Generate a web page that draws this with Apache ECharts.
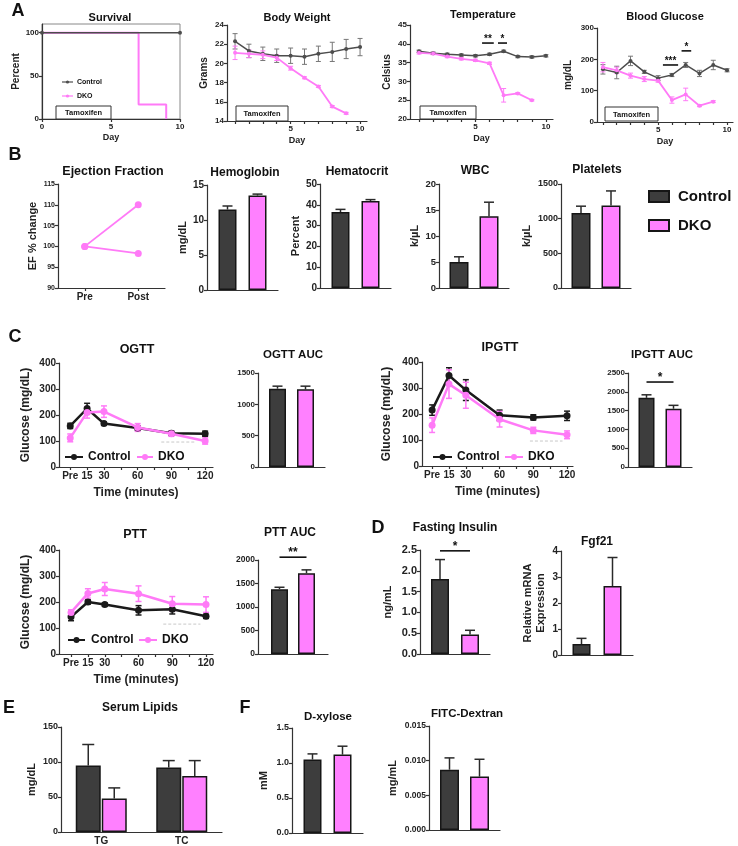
<!DOCTYPE html>
<html><head><meta charset="utf-8">
<script src="https://cdn.jsdelivr.net/npm/echarts@6/dist/echarts.min.js"></script>
<style>html,body{margin:0;padding:0;background:#fff}#c{width:738px;height:846px}</style>
</head><body><div id="c"></div>
<script>
// ===== DATA =====
const days = [1,2,3,4,5,6,7,8,9,10];
const dkoDays = [1,2,3,4,5,6,7,8,9];
const survivalCtrlDays = [0, 10];
const survivalCtrl = [100, 100];
const survivalDKODays = [0, 7, 9];
const survivalDKO = [100, 16.7, 0];
const bwCtrl = [22.3,21.3,21.0,20.8,20.8,20.7,21.0,21.2,21.5,21.7];
const bwCtrlErr = [0.8,0.7,0.7,0.7,0.8,0.8,0.8,1.0,1.0,0.9];
const bwDKO = [21.1,21.0,20.9,20.6,19.5,18.5,17.6,15.5,14.8];
const bwDKOErr = [0.7,0.4,0.4,0.3,0.2,0.1,0.1,0.1,0.1];
const tempCtrl = [38.0,37.5,37.2,37.0,36.8,37.2,38.0,36.6,36.5,36.8];
const tempCtrlErr = [0.3,0.3,0.3,0.3,0.3,0.3,0.3,0.3,0.3,0.3];
const tempDKO = [37.6,37.4,36.6,36.0,35.6,34.8,26.3,26.8,25.0];
const tempDKOErr = [0.3,0.3,0.3,0.3,0.3,0.3,1.8,0.2,0.2];
const tempSig = [[5.47,6.3,40.2],[6.6,7.24,40.2]];
const tempSigText = ['**','*'];
const bgCtrl = [168,158,195,160,140,150,182,155,182,165];
const bgCtrlErr = [15,20,15,5,8,5,8,10,15,5];
const bgDKO = [175,165,148,137,132,70,88,52,65];
const bgDKOErr = [15,10,8,8,5,10,20,3,3];
const bgSig = [[5.35,6.45,182],[6.7,7.4,227]];
const bgSigText = ['***','*'];

const efTimes = ['Pre','Post'];
const efMouse1 = [100, 110];
const efMouse2 = [100, 98.3];
const hgb = [11.5, 13.5], hgbErr = [0.5, 0.2];
const hct = [36.5, 41.8], hctErr = [1.3, 0.7];
const wbc = [5.0, 13.8], wbcErr = [1.0, 2.7];
const plt = [1080, 1190], pltErr = [100, 210];

const minutes = [0, 15, 30, 60, 90, 120];
const ogttCtrl = [158,225,167,150,130,128], ogttCtrlErr = [10,20,6,8,8,10];
const ogttDKO = [112,210,213,152,128,100], ogttDKOErr = [15,22,22,15,10,12];
const ogttRef = [[81,96],[112,96]];
const ipgttCtrl = [215,348,292,195,187,193], ipgttCtrlErr = [20,30,40,20,10,18];
const ipgttDKO = [157,315,272,180,137,120], ipgttDKOErr = [28,55,50,30,12,15];
const ipgttRef = [[87,96],[116,96]];
const pttCtrl = [143,200,190,168,172,145], pttCtrlErr = [15,8,6,18,18,8];
const pttDKO = [160,233,250,232,193,190], pttDKOErr = [10,18,25,30,28,30];
const pttRef = [[82,115],[115,115]];
const ogttAUC = [1250, 1240], ogttAUCErr = [40, 50];
const ipgttAUC = [1840, 1550], ipgttAUCErr = [80, 90];
const pttAUC = [1380, 1720], pttAUCErr = [40, 70];
const insulin = [1.8, 0.47], insulinErr = [0.47, 0.1];
const fgf21 = [0.42, 2.65], fgf21Err = [0.22, 1.1];
const lipidCats = ['TG','TC'];
const lipidCtrl = [95, 92], lipidCtrlErr = [30, 10];
const lipidDKO = [48, 80], lipidDKOErr = [15, 22];
const dxylose = [1.05, 1.12], dxyloseErr = [0.08, 0.12];
const fitc = [0.0087, 0.0077], fitcErr = [0.0017, 0.0025];
const dayTicks = days, dayLabels = [5, 10];
const minuteTicks = [0,15,30,45,60,75,90,105,120];
const minuteLabels = [0,15,30,60,90,120];

// ===== STYLE / HELPERS =====
const FONT = "'Liberation Sans', Arial, sans-serif";
const C_BAR = '#3d3d3d', D_BAR = '#ff80ff', EDGE = '#161616';
const C_LA = '#4d4d4d', D_L = '#ff7af7', C_LC = '#1a1a1a';
const AXC = '#333';
const plain = function(v){ return String(v); };

const option = {animation:false, backgroundColor:'#ffffff', textStyle:{fontFamily:FONT},
  grid:[], xAxis:[], yAxis:[], series:[], graphic:[], legend:[]};

function addGrid(l,t,w,h,extra){ option.grid.push(Object.assign({left:l,top:t,width:w,height:h}, extra||{})); return option.grid.length-1; }
function baseAxis(fs){
  return {
    axisLine:{show:true, onZero:false, lineStyle:{color:AXC, width:1.2}},
    axisTick:{show:true, length:3, lineStyle:{color:AXC, width:1.2}},
    axisLabel:{fontSize:fs, fontWeight:'bold', color:'#222', fontFamily:FONT, margin:3, formatter:plain},
    splitLine:{show:false}
  };
}
function nameStyle(fs){ return {fontSize:fs, fontWeight:'bold', color:'#222', fontFamily:FONT, lineHeight:fs+2}; }
function addY(gi, min, max, interval, fs, name, gap, fmt, nameFs, extra){
  const a = Object.assign({gridIndex:gi, type:'value', min:min, max:max}, baseAxis(fs));
  if (interval != null) a.interval = interval;
  if (fmt) a.axisLabel.formatter = fmt;
  if (name){ a.name = name; a.nameLocation = 'middle'; a.nameGap = gap; a.nameTextStyle = nameStyle(nameFs||10); }
  if (extra) extra(a);
  option.yAxis.push(a); return option.yAxis.length-1;
}
function addXVal(gi, min, max, fs, ticks, labels, fmt, name, gap, nameFs){
  const a = Object.assign({gridIndex:gi, type:'value', min:min, max:max}, baseAxis(fs));
  a.axisTick.customValues = ticks; a.axisLabel.customValues = labels; a.axisLabel.margin = 4;
  if (fmt) a.axisLabel.formatter = fmt;
  if (name){ a.name = name; a.nameLocation = 'middle'; a.nameGap = gap; a.nameTextStyle = nameStyle(nameFs||10); }
  option.xAxis.push(a); return option.xAxis.length-1;
}
function addXCat(gi, cats, fs, showLabels, showTicks){
  const a = Object.assign({gridIndex:gi, type:'category', data:cats, boundaryGap:true}, baseAxis(fs));
  a.axisLabel.show = showLabels; a.axisLabel.margin = 4;
  a.axisTick.show = showTicks; a.axisTick.alignWithLabel = true;
  option.xAxis.push(a); return option.xAxis.length-1;
}
function zip(xs, ys){ return xs.map((x,i)=>[x, ys[i]]); }
function zip3(xs, ys, es){ return xs.map((x,i)=>[x, ys[i], es[i]]); }

function lineSeries(name, xi, yi, data, color, lw, sym, extra){
  option.series.push(Object.assign({type:'line', name:name, xAxisIndex:xi, yAxisIndex:yi, data:data,
    lineStyle:{color:color, width:lw}, itemStyle:{color:color}, symbol: sym>0?'circle':'none', symbolSize:sym,
    showSymbol: sym>0, z:4, silent:true}, extra||{}));
}
function errSeries(xi, yi, data, color, capW, lw){
  option.series.push({type:'custom', xAxisIndex:xi, yAxisIndex:yi, data:data, z:3, silent:true, encode:{x:0, y:1},
    renderItem:function(params, api){
      const x = api.value(0), v = api.value(1), e = api.value(2);
      const lo = api.coord([x, v-e]), hi = api.coord([x, v+e]);
      const st = {stroke:color, lineWidth:lw};
      return {type:'group', children:[
        {type:'line', shape:{x1:lo[0],y1:lo[1],x2:hi[0],y2:hi[1]}, style:st},
        {type:'line', shape:{x1:lo[0]-capW/2,y1:lo[1],x2:lo[0]+capW/2,y2:lo[1]}, style:st},
        {type:'line', shape:{x1:hi[0]-capW/2,y1:hi[1],x2:hi[0]+capW/2,y2:hi[1]}, style:st}
      ]};
    }});
}
function sigValSeries(xi, yi, data, texts, fs){
  option.series.push({type:'custom', xAxisIndex:xi, yAxisIndex:yi, data:data, z:10, silent:true, encode:{x:0, y:2},
    renderItem:function(params, api){
      const a = api.coord([api.value(0), api.value(2)]), b = api.coord([api.value(1), api.value(2)]);
      return {type:'group', children:[
        {type:'line', shape:{x1:a[0],y1:a[1],x2:b[0],y2:b[1]}, style:{stroke:'#111', lineWidth:1.6}},
        {type:'text', x:(a[0]+b[0])/2, y:a[1]-4, style:{text:texts[params.dataIndex], font:'bold '+fs+'px '+FONT, fill:'#111', align:'center', verticalAlign:'middle'}}
      ]};
    }});
}
function txt(s, x, y, fs, align, z){
  option.graphic.push({type:'text', x:x, y:y, z:z||100, silent:true,
    style:{text:s, fill:'#111', font:'bold '+fs+'px '+FONT, align:align||'center', verticalAlign:'middle'}});
}
function tamox(x1,y1,x2,y2,fs){
  option.graphic.push({type:'rect', z:90, silent:true, shape:{x:x1,y:y1,width:x2-x1,height:y2-y1}, style:{fill:'#fff', stroke:'#333', lineWidth:1}});
  txt('Tamoxifen', (x1+x2)/2, (y1+y2)/2+0.5, fs, 'center', 100);
}
function lineLegend(x1, x2, y, color, lw, r, label, tx, fs){
  option.graphic.push({type:'line', z:100, silent:true, shape:{x1:x1,y1:y,x2:x2,y2:y}, style:{stroke:color, lineWidth:lw}});
  option.graphic.push({type:'circle', z:101, silent:true, shape:{cx:(x1+x2)/2, cy:y, r:r}, style:{fill:color}});
  txt(label, tx, y, fs, 'left');
}

// bar panel
function barPanel(p){
  const gi = addGrid(p.l, p.t, p.w, p.h);
  const cats = p.cats || [''];
  const xi = addXCat(gi, cats, p.catFs || p.fs, !!p.cats, false);
  const yi = addY(gi, p.min, p.max, p.int, p.fs, p.name, p.gap, p.fmt, p.nameFs || 11);
  const off = (p.bw + p.g)/2;
  option.series.push({type:'bar', name:'Control', xAxisIndex:xi, yAxisIndex:yi, data:p.ctrl, barWidth:p.bw, barGap:(p.g/p.bw*100)+'%',
    itemStyle:{color:C_BAR, borderColor:EDGE, borderWidth:1.5}, z:2, silent:true});
  option.series.push({type:'bar', name:'DKO', xAxisIndex:xi, yAxisIndex:yi, data:p.dko, barWidth:p.bw, barGap:(p.g/p.bw*100)+'%',
    itemStyle:{color:D_BAR, borderColor:EDGE, borderWidth:1.5}, z:2, silent:true});
  const cap = p.cap || 10;
  [[p.ctrl, p.ctrlErr, -off], [p.dko, p.dkoErr, off]].forEach(function(s){
    const data = s[0].map((v,i)=>[i, v, s[1][i]]);
    const o = s[2];
    option.series.push({type:'custom', xAxisIndex:xi, yAxisIndex:yi, data:data, z:1, silent:true, encode:{x:0,y:1},
      renderItem:function(params, api){
        const a = api.coord([api.value(0), api.value(1)]), b = api.coord([api.value(0), api.value(1)+api.value(2)]);
        const x = a[0] + o;
        const st = {stroke:'#2a2a2a', lineWidth:1.5};
        return {type:'group', children:[
          {type:'line', shape:{x1:x,y1:a[1],x2:x,y2:b[1]}, style:st},
          {type:'line', shape:{x1:x-cap/2,y1:b[1],x2:x+cap/2,y2:b[1]}, style:st}
        ]};
      }});
  });
  if (p.sig != null){
    option.series.push({type:'custom', xAxisIndex:xi, yAxisIndex:yi, data:[[0, p.sig]], z:10, silent:true, encode:{x:0,y:1},
      renderItem:function(params, api){
        const a = api.coord([0, api.value(1)]);
        const so = off + (p.sigExtra || 0);
        return {type:'group', children:[
          {type:'line', shape:{x1:a[0]-so,y1:a[1],x2:a[0]+so,y2:a[1]}, style:{stroke:'#111', lineWidth:1.6}},
          {type:'text', x:a[0], y:a[1]-4, style:{text:p.sigText, font:'bold '+(p.sigFs||11)+'px '+FONT, fill:'#111', align:'center', verticalAlign:'middle'}}
        ]};
      }});
  }
  return gi;
}

// ===== PANEL B (bars first for legend styling) =====
barPanel({l:207,t:185,w:71,h:105,min:0,max:15,int:5,fs:10,name:'mg/dL',gap:14,ctrl:[hgb[0]],ctrlErr:[hgbErr[0]],dko:[hgb[1]],dkoErr:[hgbErr[1]],bw:18,g:12});
barPanel({l:320,t:184,w:71,h:104,min:0,max:50,int:10,fs:10,name:'Percent',gap:14,ctrl:[hct[0]],ctrlErr:[hctErr[0]],dko:[hct[1]],dkoErr:[hctErr[1]],bw:18,g:12});
barPanel({l:439,t:184,w:70,h:104,min:0,max:20,int:5,fs:9.5,name:'k/µL',gap:16,ctrl:[wbc[0]],ctrlErr:[wbcErr[0]],dko:[wbc[1]],dkoErr:[wbcErr[1]],bw:19,g:11});
barPanel({l:561,t:184,w:70,h:104,min:0,max:1500,int:500,fs:9,name:'k/µL',gap:28,ctrl:[plt[0]],ctrlErr:[pltErr[0]],dko:[plt[1]],dkoErr:[pltErr[1]],bw:19,g:11});

// EF
(function(){
  const gi = addGrid(58,184,107,104);
  const xi = addXCat(gi, efTimes, 10, true, true);
  const yi = addY(gi, 90, 115, 5, 7, 'EF % change', 19, null, 11);
  lineSeries('DKO', xi, yi, efMouse1, D_L, 1.8, 7);
  lineSeries('DKO', xi, yi, efMouse2, D_L, 1.8, 7);
})();

option.legend.push({orient:'vertical', left:648, top:189, padding:0, itemWidth:20, itemHeight:11, itemGap:14, selectedMode:false,
  textStyle:{fontSize:15, fontWeight:'bold', color:'#111', fontFamily:FONT, padding:[0,0,0,4]},
  data:[{name:'Control', icon:'rect', itemStyle:{color:C_BAR, borderColor:EDGE, borderWidth:2}},
        {name:'DKO', icon:'rect', itemStyle:{color:D_BAR, borderColor:EDGE, borderWidth:2}}]});

// ===== PANEL A =====
(function(){
  // Survival
  let gi = addGrid(42,24,138,95,{show:true, borderColor:'#888', borderWidth:1});
  let xi = addXVal(gi, 0, 10, 8, [0,5,10], [0,5,10], null, 'Day', 12, 9);
  let yi = addY(gi, 0, 110, null, 8, 'Percent', 17, null, 10, function(a){ a.axisLabel.customValues=[0,50,100]; a.axisTick.customValues=[0,50,100]; });
  lineSeries('DKO', xi, yi, zip(survivalDKODays, survivalDKO), D_L, 2, 0, {step:'end'});
  lineSeries('Control', xi, yi, zip(survivalCtrlDays, survivalCtrl), C_LA, 1.5, 4, {z:5});
  lineLegend(62, 73, 82, C_LA, 1.2, 1.6, 'Control', 77, 7);
  lineLegend(62, 73, 96, D_L, 1.2, 1.6, 'DKO', 77, 7);
  tamox(56,106,111,119,7.5);

  // Body weight
  gi = addGrid(227,25,140,96);
  xi = addXVal(gi, 0.42, 10.5, 8, dayTicks, dayLabels, null, 'Day', 14, 9);
  yi = addY(gi, 14, 24, 2, 8, 'Grams', 17, null, 10);
  errSeries(xi, yi, zip3(days, bwCtrl, bwCtrlErr), '#777', 5, 1);
  errSeries(xi, yi, zip3(dkoDays, bwDKO, bwDKOErr), D_L, 5, 1);
  lineSeries('Control', xi, yi, zip(days, bwCtrl), C_LA, 1.5, 4);
  lineSeries('DKO', xi, yi, zip(dkoDays, bwDKO), D_L, 1.8, 4);
  tamox(236,106,288,121,7.5);

  // Temperature
  gi = addGrid(410,25,143,94);
  xi = addXVal(gi, 0.36, 10.5, 8, dayTicks, dayLabels, null, 'Day', 14, 9);
  yi = addY(gi, 20, 45, 5, 8, 'Celsius', 17, null, 10);
  errSeries(xi, yi, zip3(days, tempCtrl, tempCtrlErr), '#777', 5, 1);
  errSeries(xi, yi, zip3(dkoDays, tempDKO, tempDKOErr), D_L, 5, 1);
  lineSeries('Control', xi, yi, zip(days, tempCtrl), C_LA, 1.5, 4);
  lineSeries('DKO', xi, yi, zip(dkoDays, tempDKO), D_L, 1.8, 4);
  sigValSeries(xi, yi, tempSig, tempSigText, 10);
  tamox(420,106,476,119,7.5);

  // Blood glucose
  gi = addGrid(597,28,136,94);
  xi = addXVal(gi, 0.57, 10.43, 8, dayTicks, dayLabels, null, 'Day', 14, 9);
  yi = addY(gi, 0, 300, 100, 8, 'mg/dL', 23, null, 10);
  errSeries(xi, yi, zip3(days, bgCtrl, bgCtrlErr), '#777', 5, 1);
  errSeries(xi, yi, zip3(dkoDays, bgDKO, bgDKOErr), D_L, 5, 1);
  lineSeries('Control', xi, yi, zip(days, bgCtrl), C_LA, 1.5, 4);
  lineSeries('DKO', xi, yi, zip(dkoDays, bgDKO), D_L, 1.8, 4);
  sigValSeries(xi, yi, bgSig, bgSigText, 10);
  tamox(605,107,658,121,7.5);
})();

// ===== PANEL C =====
function gttPanel(l,t,w,h,xmin,xmax,ctrl,ctrlErr,dko,dkoErr,ref,yGap,leg){
  const gi = addGrid(l,t,w,h);
  const xi = addXVal(gi, xmin, xmax, 10, minuteTicks, minuteLabels, function(v){ return v===0 ? 'Pre' : String(v); }, 'Time (minutes)', 19, 12);
  const yi = addY(gi, 0, 400, 100, 10, 'Glucose (mg/dL)', yGap, null, 12);
  option.series.push({type:'line', xAxisIndex:xi, yAxisIndex:yi, data:ref, symbol:'none', silent:true, z:1,
    lineStyle:{color:'#c8c8c8', width:1, type:[3,2]}});
  errSeries(xi, yi, zip3(minutes, ctrl, ctrlErr), C_LC, 6, 1.5);
  errSeries(xi, yi, zip3(minutes, dko, dkoErr), D_L, 6, 1.5);
  lineSeries('Control', xi, yi, zip(minutes, ctrl), C_LC, 2.5, 7);
  lineSeries('DKO', xi, yi, zip(minutes, dko), D_L, 2.5, 7, {z:5});
  lineLegend(leg[0], leg[1], leg[2], C_LC, 2, 3, 'Control', leg[3], 12);
  lineLegend(leg[4], leg[5], leg[2], D_L, 2, 3, 'DKO', leg[6], 12);
}
gttPanel(59,363,154,104,-10,127,ogttCtrl,ogttCtrlErr,ogttDKO,ogttDKOErr,ogttRef,26,[65,83,457,88,137,153,158]);
gttPanel(422,362,151,104,-9,125.3,ipgttCtrl,ipgttCtrlErr,ipgttDKO,ipgttDKOErr,ipgttRef,28,[433,452,457,457,505,523,528]);
gttPanel(59,550,154,104,-10.7,126.2,pttCtrl,pttCtrlErr,pttDKO,pttDKOErr,pttRef,26,[68,85,640,91,139,157,162]);

barPanel({l:258,t:373,w:67,h:94,min:0,max:1500,int:500,fs:8,ctrl:[ogttAUC[0]],ctrlErr:[ogttAUCErr[0]],dko:[ogttAUC[1]],dkoErr:[ogttAUCErr[1]],bw:17,g:11});
barPanel({l:628,t:373,w:64,h:94,min:0,max:2500,int:500,fs:8,ctrl:[ipgttAUC[0]],ctrlErr:[ipgttAUCErr[0]],dko:[ipgttAUC[1]],dkoErr:[ipgttAUCErr[1]],bw:16,g:11,sig:2260,sigText:'*',sigFs:12});
barPanel({l:258,t:560,w:70,h:94,min:0,max:2000,int:500,fs:8.5,ctrl:[pttAUC[0]],ctrlErr:[pttAUCErr[0]],dko:[pttAUC[1]],dkoErr:[pttAUCErr[1]],bw:17,g:10,sig:2060,sigText:'**',sigFs:12});

// ===== PANEL D =====
barPanel({l:420,t:550,w:70,h:104,min:0,max:2.5,int:0.5,fs:11,fmt:function(v){return v.toFixed(1);},name:'ng/mL',gap:26,ctrl:[insulin[0]],ctrlErr:[insulinErr[0]],dko:[insulin[1]],dkoErr:[insulinErr[1]],bw:18,g:12,sig:2.48,sigText:'*',sigFs:12});
barPanel({l:561,t:551,w:72,h:104,min:0,max:4,int:1,fs:10,name:'Relative mRNA\nExpression',gap:14,ctrl:[fgf21[0]],ctrlErr:[fgf21Err[0]],dko:[fgf21[1]],dkoErr:[fgf21Err[1]],bw:18,g:13});

// ===== PANEL E / F =====
barPanel({l:61,t:727,w:161,h:106,min:0,max:150,int:50,fs:9,catFs:10,cats:lipidCats,name:'mg/dL',gap:23,ctrl:lipidCtrl,ctrlErr:lipidCtrlErr,dko:lipidDKO,dkoErr:lipidDKOErr,bw:25,g:1,cap:12});
barPanel({l:292,t:728,w:71,h:105,min:0,max:1.5,int:0.5,fs:9,fmt:function(v){return v.toFixed(1);},name:'mM',gap:22,ctrl:[dxylose[0]],ctrlErr:[dxyloseErr[0]],dko:[dxylose[1]],dkoErr:[dxyloseErr[1]],bw:18,g:12});
barPanel({l:429,t:726,w:71,h:104,min:0,max:0.015,int:0.005,fs:8.5,fmt:function(v){return v.toFixed(3);},name:'mg/mL',gap:30,ctrl:[fitc[0]],ctrlErr:[fitcErr[0]],dko:[fitc[1]],dkoErr:[fitcErr[1]],bw:19,g:11});

// ===== TITLES & PANEL LETTERS =====
[['Survival',110,18,11],['Body Weight',297,18,11],['Temperature',483,15,11],['Blood Glucose',665,17,11],
 ['Ejection Fraction',113,172,12.5],['Hemoglobin',245,173,12],['Hematocrit',357,172,12],['WBC',475,171,12],['Platelets',597,170,12],
 ['OGTT',137,350,12.5],['OGTT AUC',293,355,11.5],['IPGTT',500,348,12.5],['IPGTT AUC',662,355,11.5],
 ['PTT',135,535,12.5],['PTT AUC',290,533,12],['Fasting Insulin',455,528,12],['Fgf21',597,542,12],
 ['Serum Lipids',140,708,12],['D-xylose',328,717,11.5],['FITC-Dextran',467,714,11.5]
].forEach(function(t){ txt(t[0], t[1], t[2], t[3]); });
[['A',18,11],['B',15,155],['C',15,337],['D',378,528],['E',9,708],['F',245,708]].forEach(function(t){ txt(t[0], t[1], t[2], 18); });

const chart = echarts.init(document.getElementById('c'), null, {renderer:'canvas'});
chart.setOption(option);
</script></body></html>
